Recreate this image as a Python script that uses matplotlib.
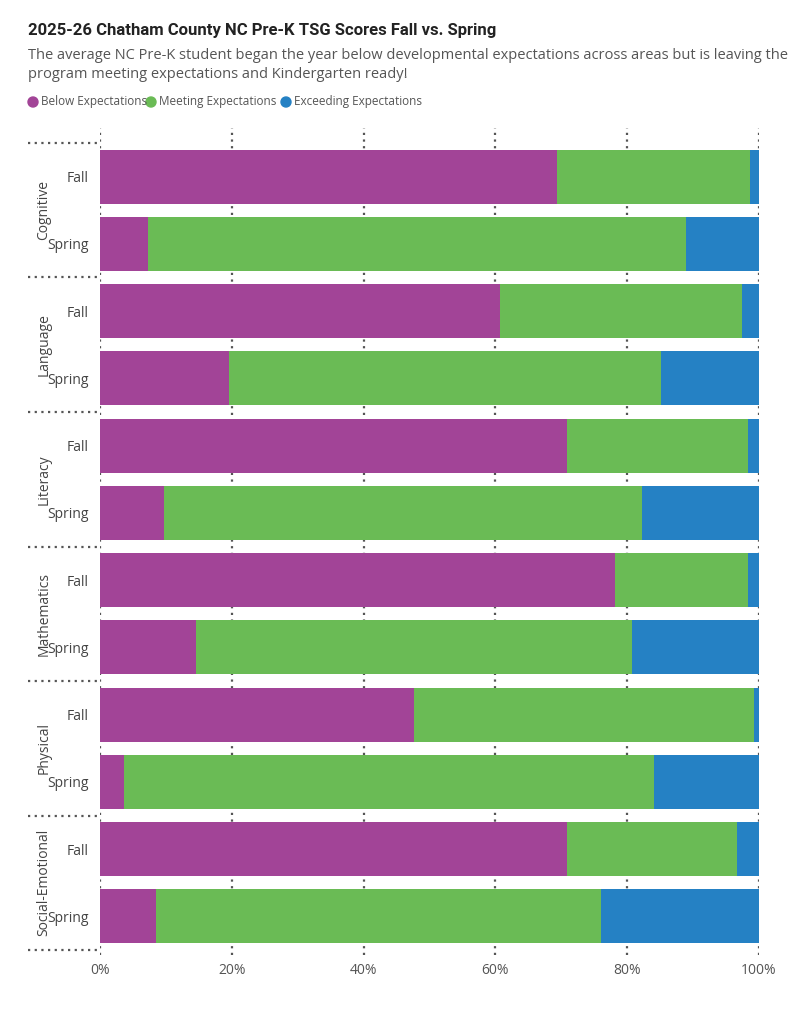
import matplotlib
matplotlib.use('Agg')
import matplotlib.pyplot as plt
import matplotlib.transforms as mtransforms

domains = ['Cognitive', 'Language', 'Literacy', 'Mathematics', 'Physical', 'Social-Emotional']
terms = ['Fall', 'Spring']
# percentages per bar (Fall, Spring for each domain)
below = [69.3, 7.3, 60.7, 19.6, 70.9, 9.7, 78.2, 14.6, 47.6, 3.7, 70.9, 8.5]
meeting = [29.3, 81.6, 36.7, 65.6, 27.4, 72.6, 20.1, 66.1, 51.6, 80.3, 25.7, 67.6]
exceeding = [100 - b - m for b, m in zip(below, meeting)]
xticks = [0, 20, 40, 60, 80, 100]

purple = '#A24497'
green = '#6ABB55'
blue = '#2581C4'
txt = '#444444'

plt.rcParams['font.family'] = ['Open Sans', 'DejaVu Sans']
fig = plt.figure(figsize=(8.01, 10.24), dpi=100)
ax = fig.add_axes([100/801, 1-955/1024, 659/801, 827/1024])

y = list(range(len(below)))
left2 = [b + m for b, m in zip(below, meeting)]
ax.barh(y, below, height=0.8, color=purple, zorder=2)
ax.barh(y, meeting, left=below, height=0.8, color=green, zorder=2)
ax.barh(y, exceeding, left=left2, height=0.8, color=blue, zorder=2)

ax.set_xlim(0, 100)
ax.set_ylim(11.5 + 5/67.25, -0.5 - 15/67.25)
for s in ax.spines.values():
    s.set_visible(False)
ax.set_xticks(xticks)
ax.set_xticklabels([f'{v}%' for v in xticks], color='#555555', fontsize=10)
ax.tick_params(axis='x', length=0, pad=6)
ax.set_yticks(y)
ax.set_yticklabels([terms[i % 2] for i in y], color=txt, fontsize=10)
ax.tick_params(axis='y', length=0, pad=8)
for v in xticks:
    ax.axvline(v, color='#555555', linestyle=(0, (1, 2)), linewidth=1.6, zorder=1)

trans = mtransforms.blended_transform_factory(ax.transAxes, ax.transData)
for g in range(len(domains) + 1):
    ax.plot([-0.11, 0], [g*2 - 0.5]*2, transform=trans, clip_on=False,
            color='#555555', linestyle=(0, (1, 2)), linewidth=1.6)
for g, d in enumerate(domains):
    ax.text(-0.085, g*2 + 0.5, d, transform=trans, rotation=90, ha='center', va='center',
            color=txt, fontsize=10)

fig.text(28/801, 1-31/1024, '2025-26 Chatham County NC Pre-K TSG Scores Fall vs. Spring',
         fontsize=12, fontweight='bold', color='#222222', family=['Roboto', 'DejaVu Sans'], va='center')
fig.text(28/801, 1-65/1024,
         'The average NC Pre-K student began the year below developmental expectations across areas but is leaving the\nprogram meeting expectations and Kindergarten ready!',
         fontsize=10.5, color='#555555', va='center', linespacing=1.3)

lx = 28
for label, c in [('Below Expectations', purple), ('Meeting Expectations', green), ('Exceeding Expectations', blue)]:
    fig.patches.append(matplotlib.patches.Circle((lx + 5, 1024 - 102), 5, color=c,
                                                 transform=None))
    t = fig.text((lx + 13)/801, 1-102/1024, label, fontsize=8.5, color='#555555', va='center')
    lx += {'Below Expectations': 118, 'Meeting Expectations': 135}.get(label, 0)

fig.savefig('out.png', dpi=100)
